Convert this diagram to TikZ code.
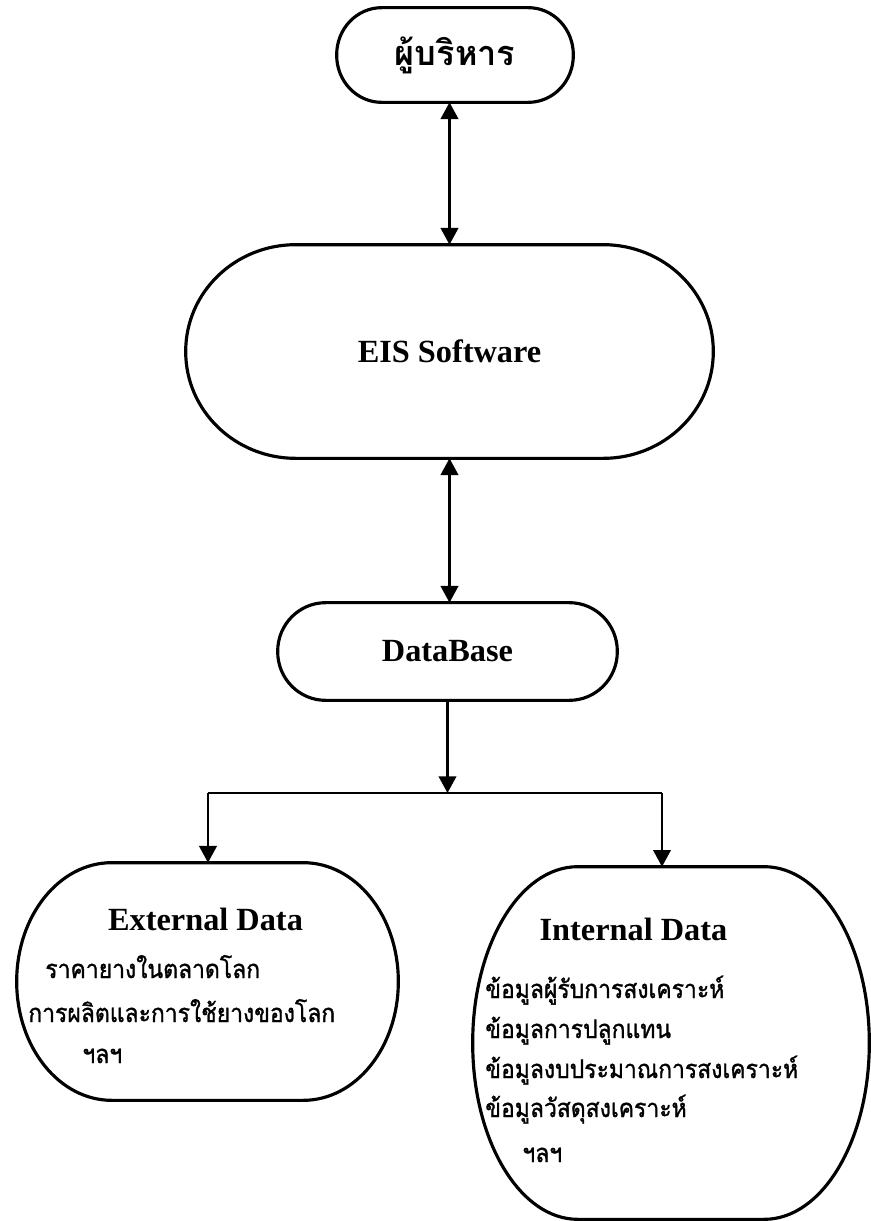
\documentclass[tikz,border=0pt]{standalone}
\usepackage{fontspec}
\setmainfont{Liberation Serif}
\newfontfamily\thaifont[Script=Thai]{Loma}
\newfontfamily\thaibody[Script=Thai, FakeBold=1.2, FakeStretch=0.9]{Loma}
\usetikzlibrary{arrows.meta,positioning,calc}
% elliptic-cornered outline round a named node: node, x radius, y radius
\newcommand{\ovalrim}[3]{%
  \draw[rim] ($(#1.north west)+(#2,0)$) -- ($(#1.north east)+(-#2,0)$)
    arc[start angle=90, end angle=0, x radius=#2, y radius=#3]
    -- ($(#1.south east)+(0,#3)$)
    arc[start angle=0, end angle=-90, x radius=#2, y radius=#3]
    -- ($(#1.south west)+(#2,0)$)
    arc[start angle=270, end angle=180, x radius=#2, y radius=#3]
    -- ($(#1.north west)+(0,-#3)$)
    arc[start angle=180, end angle=90, x radius=#2, y radius=#3] -- cycle;}

\begin{document}
\begin{tikzpicture}[x=0.02cm, y=0.02cm,
  box/.style={inner sep=0pt, align=center},
  rim/.style={draw=black, line width=1.8pt},
  ttl/.style={font=\fontsize{18.4}{22}\selectfont\bfseries},
  thttl/.style={font=\thaifont\fontsize{19.5}{22}\selectfont\bfseries},
  thl/.style={font=\thaibody\fontsize{14.5}{16}\selectfont, anchor=base west, inner sep=0pt},
  arr/.style={-{Triangle[length=9.5pt, width=10pt]}, line width=1.2pt},
  darr/.style={{Triangle[length=9.5pt, width=10pt]}-{Triangle[length=9.5pt, width=10pt]}, line width=1.2pt},
  wire/.style={line width=1.2pt}]
\useasboundingbox (0,0) rectangle (871,-1221);
\node[box, thttl, minimum width=4.72cm, minimum height=1.88cm] (boss) at (455,-55) {ผู้บริหาร};
\ovalrim{boss}{45}{47}
\node[box, ttl, minimum width=10.54cm, minimum height=4.26cm] (eis) at (449.5,-351.5) {EIS Software};
\ovalrim{eis}{110}{106.5}
\node[box, ttl, minimum width=6.78cm, minimum height=1.94cm] (db) at (447.5,-651.5) {DataBase};
\ovalrim{db}{48}{48.5}
\node[box, minimum width=7.62cm, minimum height=4.74cm] (ext) at (207.5,-981.5) {};
\ovalrim{ext}{95}{118.5}
\node[box, minimum width=7.92cm, minimum height=7.04cm] (int) at (671,-1043) {};
\ovalrim{int}{105}{176}

% ── connectors ──
\draw[darr] (eis.north |- boss.south) -- (eis.north);
\draw[darr] (eis.south) -- (eis.south |- db.north);
\coordinate (fork) at (448,-793);
\coordinate (forkL) at (208,-793);
\coordinate (forkR) at (662,-793);
\draw[arr] (db.south) -- (db.south |- fork);
\draw[wire] (forkL) -- (forkR);
\foreach \a/\b in {forkL/ext,forkR/int}{\draw[arr] (\a) -- (\a |- \b.north);}

% ── box contents ──
\node[ttl, anchor=base, inner sep=0pt] (extT) at (205.5,-930) {External Data};
\node[thl] (ext1) at (45,-978) {ราคายางในตลาดโลก};
\node[thl] (ext2) at (28,-1022) {การผลิตและการใช้ยางของโลก};
\node[thl] (ext3) at (82,-1063) {ฯลฯ};
\node[ttl, anchor=base, inner sep=0pt] (intT) at (633.5,-940) {Internal Data};
\node[thl] (int1) at (485,-998) {ข้อมูลผู้รับการสงเคราะห์};
\node[thl] (int2) at (485,-1038) {ข้อมูลการปลูกแทน};
\node[thl] (int3) at (485,-1078) {ข้อมูลงบประมาณการสงเคราะห์};
\node[thl] (int4) at (485,-1117) {ข้อมูลวัสดุสงเคราะห์};
\node[thl] (int5) at (522,-1162) {ฯลฯ};
\end{tikzpicture}
\end{document}
